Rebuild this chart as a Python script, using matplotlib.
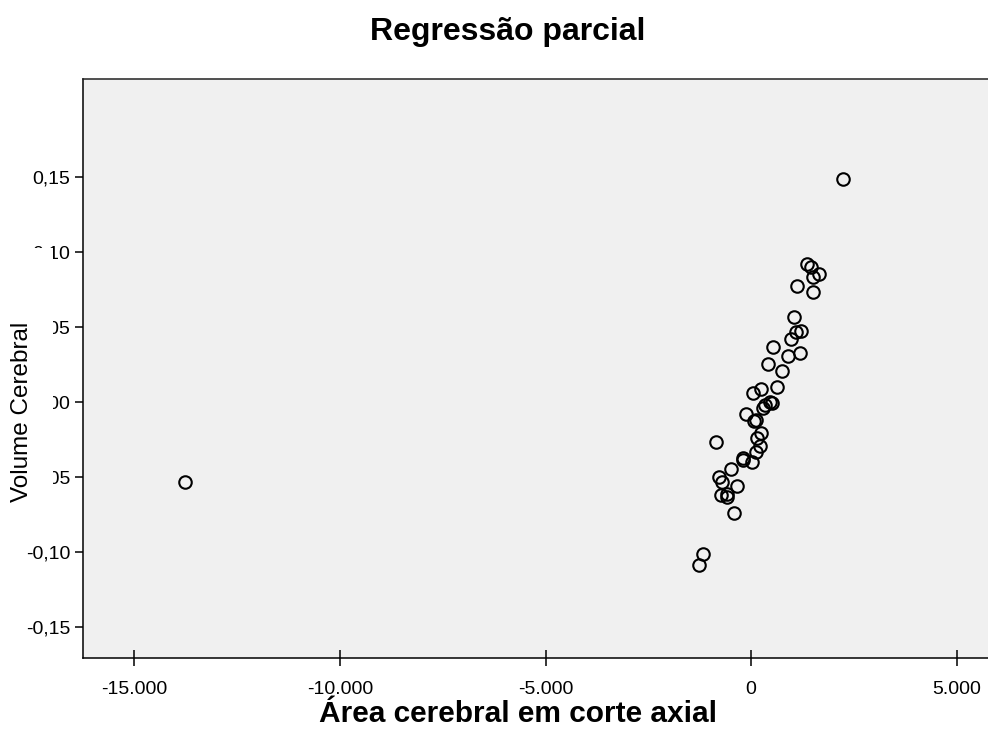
import matplotlib
matplotlib.use("Agg")
import matplotlib.pyplot as plt
from matplotlib.patches import Rectangle
from matplotlib.ticker import FixedLocator, FuncFormatter

plt.rcParams['font.family'] = ['Liberation Sans', 'DejaVu Sans']

# Partial regression residuals
area_resid = [2231, -13771, 1370, 1453, 1662, 1516, 1112, 1501, 1046, 1095,
              1209, 966, 543, 908, 1192, 421, 747, 625, 41, 243,
              462, 511, 299, 341, -122, 61, 122, -852, 243, 153,
              219, 122, -202, -187, 17, -494, -771, -706, -348, -737,
              -591, -577, -414, -1161, -1277]
volume_resid = [0.1487, -0.0533, 0.0922, 0.0902, 0.0853, 0.0831, 0.0771, 0.0735, 0.0569, 0.0469,
                0.0475, 0.0418, 0.0369, 0.0309, 0.0329, 0.0251, 0.0209, 0.0098, 0.0058, 0.0085,
                0.0003, -0.0007, -0.0037, -0.0023, -0.0080, -0.0130, -0.0123, -0.0270, -0.0209, -0.0242,
                -0.0291, -0.0335, -0.0371, -0.0387, -0.0398, -0.0445, -0.0497, -0.0533, -0.0557, -0.0620,
                -0.0611, -0.0631, -0.0738, -0.1015, -0.1090]

x_ticks = [-15000, -10000, -5000, 0, 5000]
y_ticks = [-0.15, -0.10, -0.05, 0.00, 0.05, 0.10, 0.15]

W, H = 988, 738
fig = plt.figure(figsize=(W / 100, H / 100), dpi=100)
left, right, top, bottom = 83, 988, 79, 658
ax = fig.add_axes([left / W, 1 - bottom / H, (right - left) / W, (bottom - top) / H])
ax.set_facecolor('#F0F0F0')

ax.plot(area_resid, volume_resid, linestyle='none', marker='o', markersize=9,
        markerfacecolor='none', markeredgecolor='black', markeredgewidth=1.5)

ax.set_xlim(-16253, 5766)
ax.set_ylim(-0.1707, 0.2153)

ax.xaxis.set_major_locator(FixedLocator(x_ticks))
ax.yaxis.set_major_locator(FixedLocator(y_ticks))
ax.xaxis.set_major_formatter(FuncFormatter(
    lambda v, p: '0' if v == 0 else f"{v:,.0f}".replace(',', '.')))
ax.yaxis.set_major_formatter(FuncFormatter(
    lambda v, p: f"{v:.2f}".replace('.', ',')))

ax.tick_params(axis='x', direction='inout', length=11, width=1.1, labelsize=14,
               pad=11, colors='black')
ax.tick_params(axis='y', direction='out', length=6, width=1.1, labelsize=14,
               pad=3, colors='black')

for side in ('left', 'bottom', 'top'):
    ax.spines[side].set_linewidth(1.1)
    ax.spines[side].set_color('black')
ax.spines['top'].set_color('#222222')
ax.spines['right'].set_visible(False)

fig.text(508 / W, 1 - 32 / H, 'Regressão parcial', ha='center', va='center',
         fontsize=23, fontweight='bold')
fig.text(518 / W, 1 - 714 / H, 'Área cerebral em corte axial', ha='center', va='center',
         fontsize=21.5, fontweight='bold')

# y-axis title sits on a white box over the inner tick labels
fig.add_artist(Rectangle((0, 1 - 510 / H), 53 / W, (510 - 248) / H,
                         transform=fig.transFigure, facecolor='white',
                         edgecolor='none', zorder=5))
fig.text(22 / W, 1 - 412 / H, 'Volume Cerebral', ha='center', va='center',
         rotation=90, fontsize=17.5, zorder=6)

fig.savefig('out.png', dpi=100, facecolor='white')
